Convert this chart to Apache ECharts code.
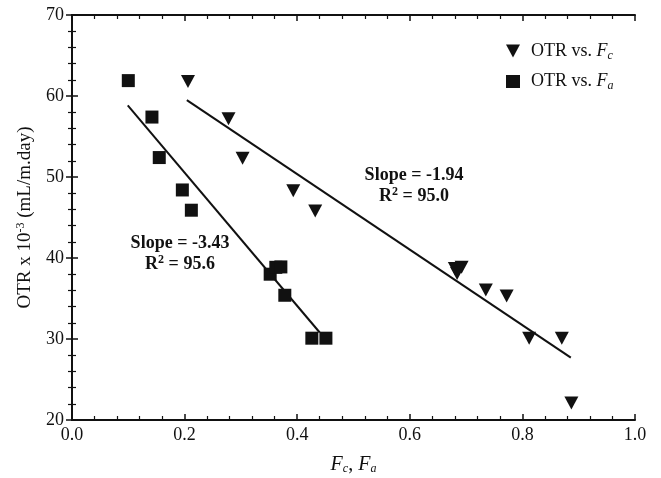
<!DOCTYPE html>
<html>
<head>
<meta charset="utf-8">
<script src="https://cdn.jsdelivr.net/npm/echarts@6/dist/echarts.min.js"></script>
<style>
  html, body { margin: 0; padding: 0; background: #fff; }
  #chart1 { width: 661px; height: 478px; }
</style>
</head>
<body>
<div id="chart1"></div>
<script>
// OTR vs. Fc (down triangles)
const fcX = [0.206, 0.278, 0.303, 0.393, 0.432, 0.680, 0.692, 0.684, 0.735, 0.772, 0.812, 0.870, 0.887];
const fcY = [61.8, 57.2, 52.3, 48.3, 45.8, 38.7, 38.85, 38.1, 36.05, 35.3, 30.1, 30.1, 22.1];
// OTR vs. Fa (squares)
const faX = [0.100, 0.142, 0.155, 0.196, 0.212, 0.352, 0.362, 0.371, 0.378, 0.426, 0.451];
const faY = [61.9, 57.4, 52.4, 48.4, 45.9, 38.0, 38.85, 38.9, 35.4, 30.1, 30.1];
// fitted lines, end points
const fitFcX = [0.204, 0.886];
const fitFcY = [59.5, 27.7];
const fitFaX = [0.099, 0.440];
const fitFaY = [58.85, 30.8];

const xTicks = [0, 0.2, 0.4, 0.6, 0.8, 1.0];

const FONT = "Liberation Serif";
const INK = "#111";
const triPath = "path://M0,0 L12,0 L6,11 Z";

const pairs = (xs, ys) => xs.map((x, i) => [x, ys[i]]);

const axisCommon = {
  axisLine: { show: true, lineStyle: { color: INK, width: 2 } },
  axisTick: { show: true, inside: true, length: 6, lineStyle: { color: INK, width: 1.5 } },
  minorTick: { show: true, splitNumber: 5, length: 4, lineStyle: { color: INK, width: 1.2 } },
  splitLine: { show: false },
};

const boldRich = {
  a: { fontFamily: FONT, fontSize: 18, fontWeight: "bold", fill: INK },
  p: { fontFamily: FONT, fontSize: 12, fontWeight: "bold", fill: INK, verticalAlign: "top", padding: [0, 0, 8, 0] },
};

const option = {
  animation: false,
  backgroundColor: "#fff",
  textStyle: { fontFamily: FONT, color: INK },
  grid: { left: 72, right: 26, top: 15, bottom: 58, outerBoundsMode: "none", containLabel: false },
  legend: {
    orient: "vertical",
    left: 501,
    top: 37,
    itemWidth: 14,
    itemHeight: 13,
    itemGap: 11,
    data: [
      { name: "fc", icon: triPath },
      { name: "fa", icon: "rect" },
    ],
    formatter: (name) =>
      name === "fc" ? "{a|OTR vs. }{f|F}{s|c}" : "{a|OTR vs. }{f|F}{s|a}",
    textStyle: {
      fontFamily: FONT,
      color: INK,
      fontSize: 18,
      rich: {
        a: { fontFamily: FONT, fontSize: 18, color: INK, padding: [0, 0, 0, 6] },
        f: { fontFamily: FONT, fontSize: 18, color: INK, fontStyle: "italic" },
        s: { fontFamily: FONT, fontSize: 12, color: INK, fontStyle: "italic", verticalAlign: "bottom", padding: [9, 0, 0, 0] },
      },
    },
  },
  xAxis: [
    Object.assign({}, axisCommon, {
      type: "value",
      min: 0,
      max: 1,
      interval: 0.2,
      position: "bottom",
      axisLabel: {
        fontFamily: FONT, fontSize: 18, color: INK, margin: 6,
        formatter: (v) => xTicks.some((t) => Math.abs(t - v) < 1e-9) ? v.toFixed(1) : "",
      },
      name: "{f|F}{s|c}{a|, }{f|F}{s|a}",
      nameLocation: "middle",
      nameGap: 35,
      nameTextStyle: {
        fontFamily: FONT,
        color: INK,
        rich: {
          a: { fontFamily: FONT, fontSize: 20, color: INK },
          f: { fontFamily: FONT, fontSize: 20, color: INK, fontStyle: "italic" },
          s: { fontFamily: FONT, fontSize: 12, color: INK, fontStyle: "italic", verticalAlign: "bottom", padding: [7, 0, 0, 0] },
        },
      },
    }),
    Object.assign({}, axisCommon, {
      type: "value",
      min: 0,
      max: 1,
      interval: 0.2,
      position: "top",
      axisLabel: { show: false },
    }),
  ],
  yAxis: [
    Object.assign({}, axisCommon, {
      type: "value",
      min: 20,
      max: 70,
      interval: 10,
      position: "left",
      axisLabel: { fontFamily: FONT, fontSize: 18, color: INK, margin: 8 },
      name: "{a|OTR x 10}{p|-3}{a| (mL/m.day)}",
      nameLocation: "middle",
      nameGap: 36,
      nameRotate: 90,
      nameTextStyle: {
        fontFamily: FONT,
        color: INK,
        rich: {
          a: { fontFamily: FONT, fontSize: 19, color: INK },
          p: { fontFamily: FONT, fontSize: 12, color: INK, verticalAlign: "top", padding: [0, 0, 9, 0] },
        },
      },
    }),
    Object.assign({}, axisCommon, {
      type: "value",
      min: 20,
      max: 70,
      interval: 10,
      position: "right",
      axisLabel: { show: false },
    }),
  ],
  series: [
    {
      name: "fitFc",
      type: "line",
      data: pairs(fitFcX, fitFcY),
      symbol: "none",
      lineStyle: { color: INK, width: 2 },
      z: 2,
    },
    {
      name: "fitFa",
      type: "line",
      data: pairs(fitFaX, fitFaY),
      symbol: "none",
      lineStyle: { color: INK, width: 2 },
      z: 2,
    },
    {
      name: "fc",
      type: "scatter",
      data: pairs(fcX, fcY),
      symbol: triPath,
      symbolSize: [14, 13],
      itemStyle: { color: INK, opacity: 1 },
      z: 3,
    },
    {
      name: "fa",
      type: "scatter",
      data: pairs(faX, faY),
      symbol: "rect",
      symbolSize: 13,
      itemStyle: { color: INK, opacity: 1 },
      z: 3,
    },
  ],
  graphic: [
    {
      type: "text",
      x: 414,
      y: 175,
      style: {
        text: "Slope = -1.94",
        fontFamily: FONT, fontSize: 18, fontWeight: "bold", fill: INK,
        align: "center", verticalAlign: "middle",
      },
    },
    {
      type: "text",
      x: 414,
      y: 196,
      style: {
        text: "{a|R}{p|2}{a| = 95.0}",
        fontFamily: FONT, fill: INK,
        align: "center", verticalAlign: "middle",
        rich: boldRich,
      },
    },
    {
      type: "text",
      x: 180,
      y: 243,
      style: {
        text: "Slope = -3.43",
        fontFamily: FONT, fontSize: 18, fontWeight: "bold", fill: INK,
        align: "center", verticalAlign: "middle",
      },
    },
    {
      type: "text",
      x: 180,
      y: 264,
      style: {
        text: "{a|R}{p|2}{a| = 95.6}",
        fontFamily: FONT, fill: INK,
        align: "center", verticalAlign: "middle",
        rich: boldRich,
      },
    },
  ],
};

let myChart = echarts.init(document.getElementById("chart1"));
myChart.setOption(option);
</script>
</body>
</html>
